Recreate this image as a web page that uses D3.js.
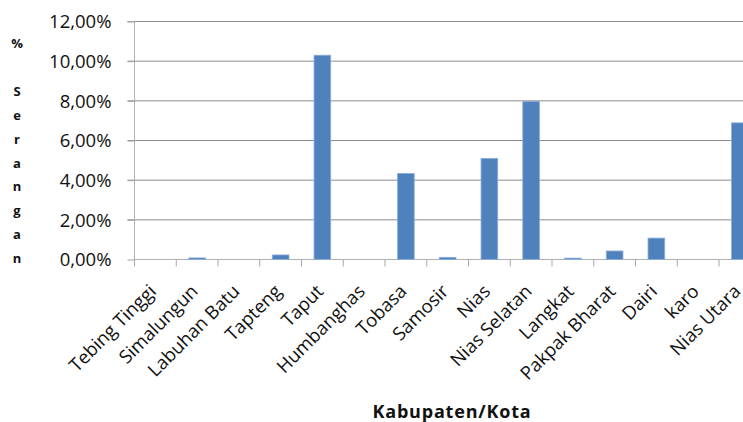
<!DOCTYPE html>
<html><head><meta charset="utf-8">
<script src="https://cdn.jsdelivr.net/npm/d3@7"></script>
<style>html,body{margin:0;padding:0;background:#fff;overflow:hidden}</style>
</head><body>
<svg id="c" width="743" height="422"></svg>
<script>
const categories = ["Tebing Tinggi","Simalungun","Labuhan Batu","Tapteng","Taput","Humbanghas","Tobasa","Samosir","Nias","Nias Selatan","Langkat","Pakpak Bharat","Dairi","karo","Nias Utara"];
const values = [0, 0.0008, 0, 0.0023, 0.1030, 0, 0.0434, 0.0011, 0.0510, 0.0797, 0.0007, 0.0043, 0.0108, 0, 0.0689];
const yTicks = [0, 0.02, 0.04, 0.06, 0.08, 0.10, 0.12];
const yTitle = "% Serangan";
const xTitle = "Kabupaten/Kota";

const svg = d3.select("#c");
const mLeft = 134.5, mTop = 21.5, mBottom = 259.5, step = 41.75;
const x = d3.scaleBand().domain(categories).range([mLeft, mLeft + step * categories.length]).padding(0);
const y = d3.scaleLinear().domain([0, 0.12]).range([mBottom, mTop]);
const fmt = v => d3.format(".2f")(v * 100).replace(".", ",") + "%";

// gridlines
svg.append("g").selectAll("line").data(yTicks.filter(d => d > 0)).join("line")
  .attr("x1", mLeft - 7).attr("x2", 743).attr("y1", d => y(d)).attr("y2", d => y(d))
  .attr("stroke", "#8c8c8c").attr("stroke-width", 1);

// y axis
const ya = svg.append("g").attr("transform", `translate(${mLeft},0)`)
  .call(d3.axisLeft(y).tickValues(yTicks).tickFormat(fmt).tickSize(7).tickPadding(16));
ya.select(".domain").attr("stroke", "#b0b0b0").attr("d", `M-7,${mTop}H0V${mBottom}`);
ya.selectAll(".tick line").attr("stroke", "#a0a0a0");
ya.selectAll("text").attr("font-family", "Open Sans").attr("font-size", 18.5).attr("fill", "#111").attr("dy", "0.34em");

// x axis
const xa = svg.append("g").attr("transform", `translate(0,${mBottom})`);
xa.append("line").attr("x1", mLeft).attr("x2", 743).attr("stroke", "#b0b0b0");
const bounds = d3.range(categories.length + 1).map(i => mLeft + i * step);
xa.selectAll("line.t").data(bounds).join("line").attr("class", "t")
  .attr("x1", d => d).attr("x2", d => d).attr("y1", 0).attr("y2", 7).attr("stroke", "#a8a8a8");

// bars
const bw = x.bandwidth() / 2.5;
svg.append("g").selectAll("rect").data(categories).join("rect")
  .attr("x", (d) => x(d) + (x.bandwidth() - bw) / 2)
  .attr("width", bw)
  .attr("y", (d, i) => y(values[i]))
  .attr("height", (d, i) => mBottom - y(values[i]))
  .attr("fill", "#4f81bd").attr("stroke", "#8eaedb").attr("stroke-width", 0.8);

// x labels
svg.append("g").selectAll("text").data(categories).join("text")
  .attr("transform", d => `translate(${x(d) + x.bandwidth() / 2 + 2},${mBottom + 33}) rotate(-45)`)
  .attr("text-anchor", "end")
  .attr("font-family", "Open Sans").attr("font-size", 18.5).attr("fill", "#111")
  .text(d => d);

// y title (stacked vertically)
const chars = yTitle.split("");
svg.append("g").selectAll("text").data(chars).join("text")
  .attr("x", 17).attr("y", (d, i) => 48 + i * 23.9)
  .attr("text-anchor", "middle")
  .attr("font-family", "Open Sans").attr("font-weight", "bold").attr("font-size", 13).attr("fill", "#111")
  .text(d => d);

// x title
svg.append("text").attr("x", 452).attr("y", 418)
  .attr("text-anchor", "middle")
  .attr("font-family", "Open Sans").attr("font-weight", "bold").attr("font-size", 18).attr("letter-spacing", 0.8)
  .attr("fill", "#111").text(xTitle);
</script>
</body></html>
